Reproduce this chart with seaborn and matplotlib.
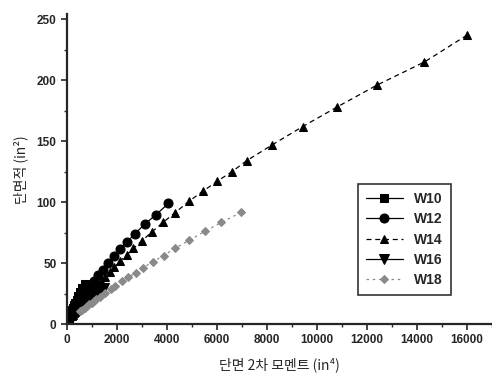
# -*- coding: utf-8 -*-
"""
W-shape sections: area vs. moment of inertia
"""

import pandas as pd
import seaborn as sns
import matplotlib
matplotlib.use('Agg')
import matplotlib.pyplot as plt
from matplotlib.ticker import AutoMinorLocator, MultipleLocator

# data (Ix in in^4, A in in^2)
w10_ix = [716, 623, 534, 455, 394, 341, 303, 272, 248, 209, 171, 170, 144, 118, 96.3, 81.9, 68.9, 53.8]
w10_a = [32.9, 29.4, 25.9, 22.6, 20.0, 17.6, 15.8, 14.4, 13.3, 11.5, 9.71, 8.84, 7.61, 6.49, 5.62, 4.99, 4.41, 3.54]

w12_ix = [4060, 3550, 3110, 2720, 2420, 2140, 1890, 1650, 1430, 1240, 1070, 933, 833, 740, 662, 597,
          533, 475, 425, 391, 348, 307, 285, 238, 204, 156, 130, 103, 88.6]
w12_a = [98.9, 89.5, 81.9, 74.1, 67.7, 61.8, 55.8, 50.0, 44.7, 39.9, 35.3, 31.2, 28.2, 25.6, 23.2, 21.1,
         19.1, 17.0, 15.6, 14.6, 13.1, 11.7, 10.3, 8.79, 7.65, 6.48, 5.57, 4.71, 4.16]

w14_ix = [16000, 14300, 12400, 10800, 9430, 8210, 7190, 6600, 6000, 5440, 4900, 4330, 3840, 3400, 3010,
          2660, 2400, 2140, 1900, 1710, 1530, 1380, 1240, 1110, 999, 881, 795, 722, 640, 541, 484, 428,
          385, 340, 291, 245, 199]
w14_a = [237, 215, 196, 178, 162, 147, 134, 125, 117, 109, 101, 91.4, 83.3, 75.6, 68.5,
         62.0, 56.8, 51.8, 46.7, 42.7, 38.8, 35.3, 32.0, 29.1, 26.5, 24.0, 21.8, 20.0, 17.9, 15.6, 14.1, 12.6,
         11.2, 10.0, 8.85, 7.69, 6.49]

w16_ix = [1490, 1300, 1110, 954, 758, 659, 586, 518, 448, 375, 301]
w16_a = [29.4, 26.2, 22.6, 19.7, 16.8, 14.7, 13.3, 11.8, 10.6, 9.13, 7.68]

w18_ix = [6970, 6170, 5510, 4900, 4330, 3870, 3450, 3060, 2750, 2460, 2190, 1910, 1750, 1530, 1330,
          1170, 1070, 984, 890, 800, 712, 612, 510]
w18_a = [91.6, 83.3, 76.0, 68.8, 62.3, 56.2, 51.3, 46.3, 42.0, 38.3, 35.1, 31.1, 28.5, 25.3, 22.3,
         20.8, 19.1, 17.6, 16.2, 14.7, 13.5, 11.8, 10.3]

series = ['W10', 'W12', 'W14', 'W16', 'W18']
xs = [w10_ix, w12_ix, w14_ix, w16_ix, w18_ix]
ys = [w10_a, w12_a, w14_a, w16_a, w18_a]

# styles
markers = ['s', 'o', '^', 'v', 'D']
dashes = ['-', '-', (0, (4, 3)), '-', (0, (2, 3))]
colors = ['black', 'black', 'black', 'black', '#8a8a8a']
sizes = [6, 6.5, 6, 6.5, 4.5]

sns.set_style('ticks')
plt.rcParams['font.family'] = ['Liberation Sans', 'DejaVu Sans']

fig, ax = plt.subplots(figsize=(4.92, 3.79), dpi=100)
fig.subplots_adjust(left=0.136, right=1.0, bottom=0.145, top=0.962)

for name, x, y, m, ls, c, ms in zip(series, xs, ys, markers, dashes, colors, sizes):
    df = pd.DataFrame({'ix': x, 'a': y})
    sns.lineplot(data=df, x='ix', y='a', ax=ax, sort=False, label=name, color=c,
                 marker=m, markersize=ms, markeredgecolor=c, linestyle=ls, linewidth=0.9)

ax.set_xlim(0, 17000)
ax.set_ylim(0, 254)
ax.xaxis.set_major_locator(MultipleLocator(2000))
ax.yaxis.set_major_locator(MultipleLocator(50))
ax.xaxis.set_minor_locator(AutoMinorLocator(2))
ax.yaxis.set_minor_locator(AutoMinorLocator(2))
ax.tick_params(which='major', direction='out', length=4, width=1.2, labelsize=8.5)
ax.tick_params(which='minor', direction='out', length=2.5, width=1)
for lab in ax.get_xticklabels() + ax.get_yticklabels():
    lab.set_fontweight('bold')

sns.despine(ax=ax)
ax.spines['left'].set_linewidth(1.6)
ax.spines['bottom'].set_linewidth(1.6)

kfont = ['Noto Sans CJK KR', 'DejaVu Sans']
ax.set_xlabel('단면 2차 모멘트 (in⁴)', family=kfont, fontsize=10, labelpad=8)
ax.set_ylabel('단면적 (in²)', family=kfont, fontsize=10, labelpad=6)

leg = ax.legend(loc='upper left', bbox_to_anchor=(0.685, 0.453), borderaxespad=0, frameon=True,
                fancybox=False, edgecolor='black', handlelength=2.6, labelspacing=0.45, borderpad=0.6,
                prop={'weight': 'bold', 'size': 10})
leg.get_frame().set_linewidth(1.2)

plt.savefig('out.png', dpi=100)
